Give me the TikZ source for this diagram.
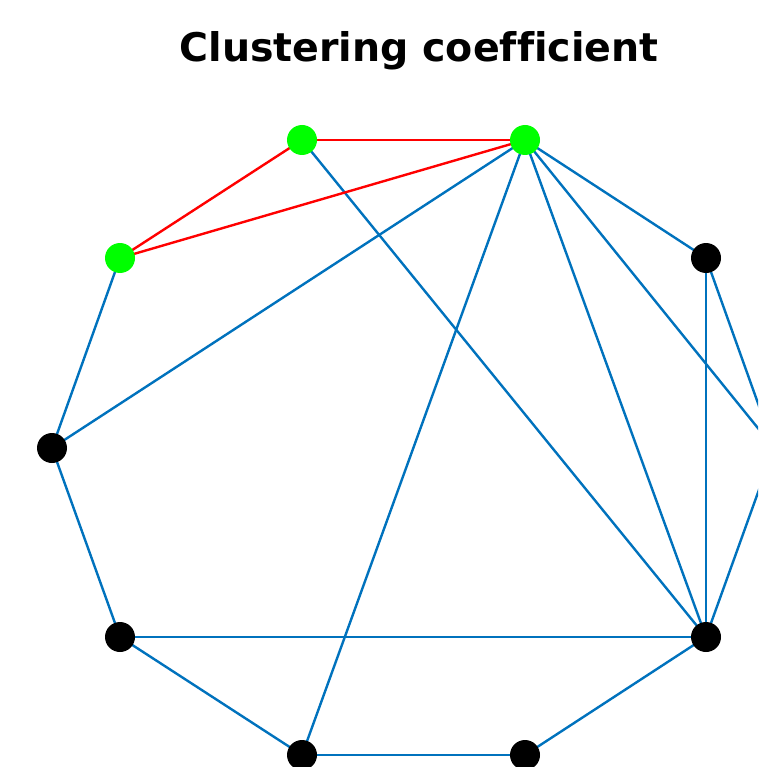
\documentclass[tikz,border=0pt]{standalone}
\usepackage{fontspec}
\setmainfont{DejaVu Sans}[Ligatures=NoCommon]
\definecolor{mblue}{RGB}{0,114,189}
\begin{document}
\begin{tikzpicture}[x=1pt,y=-1pt,
  vtx/.style={circle,fill=black,inner sep=0pt,minimum size=30pt},
  gvtx/.style={circle,fill=green,inner sep=0pt,minimum size=30pt},
  edge/.style={draw=mblue,line width=2.4pt},
  redge/.style={draw=red,line width=2.4pt}]
\useasboundingbox (0,0) rectangle (758,767);
\clip (0,0) rectangle (758,767);
\node[font=\bfseries\fontsize{39.5}{42}\selectfont,anchor=base,inner sep=0pt] (title) at (419,62) {Clustering coefficient};
\coordinate (A) at (302,140);
\coordinate (B) at (525,140);
\coordinate (C) at (120,258);
\coordinate (D) at (706,258);
\coordinate (E) at (52,448);
\coordinate (F) at (774,448);
\coordinate (G) at (120,637);
\coordinate (H) at (706,637);
\coordinate (I) at (302,755);
\coordinate (J) at (525,755);
\draw[edge] (A) -- (H);
\draw[edge] (B) -- (E);
\draw[edge] (B) -- (I);
\draw[edge] (B) -- (H);
\draw[edge] (B) -- (F);
\draw[edge] (B) -- (D);
\draw[edge] (C) -- (E);
\draw[edge] (E) -- (G);
\draw[edge] (G) -- (H);
\draw[edge] (G) -- (I);
\draw[edge] (I) -- (J);
\draw[edge] (J) -- (H);
\draw[edge] (D) -- (H);
\draw[edge] (D) -- (F);
\draw[edge] (H) -- (F);
\draw[redge] (A) -- (B);
\draw[redge] (A) -- (C);
\draw[redge] (C) -- (B);
\node[gvtx] (nA) at (A) {};
\node[gvtx] (nB) at (B) {};
\node[gvtx] (nC) at (C) {};
\node[vtx] (nD) at (D) {};
\node[vtx] (nE) at (E) {};
\node[vtx] (nF) at (F) {};
\node[vtx] (nG) at (G) {};
\node[vtx] (nH) at (H) {};
\node[vtx] (nI) at (I) {};
\node[vtx] (nJ) at (J) {};
\end{tikzpicture}
\end{document}
